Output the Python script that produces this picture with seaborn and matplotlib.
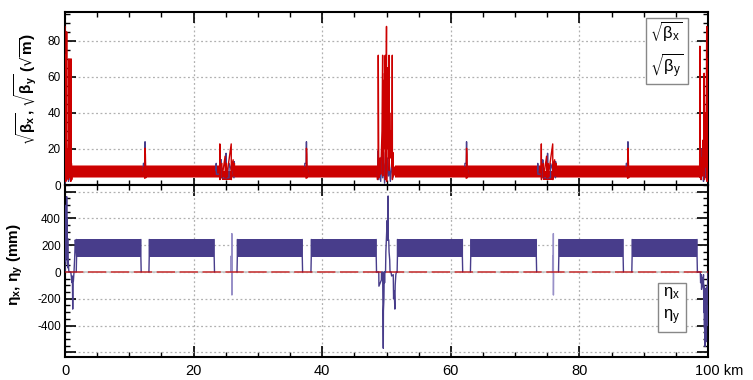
import numpy as np
import matplotlib
matplotlib.use("Agg")

import matplotlib.pyplot as plt
from matplotlib.ticker import MultipleLocator, FuncFormatter
import seaborn as sns


# =========================
# DATA
# =========================

RED = "#cc0000"
RED_LIGHT = "#e87a7a"
BLUE = "#483d8b"
BLUE_LIGHT = "#9890c8"

# --- top panel: sqrt(beta) in sqrt(m) ---
# regular FODO oscillation band (km)
BETA_BAND_START = [1.1, 25.85, 51.3, 75.85]
BETA_BAND_END = [24.35, 48.6, 74.35, 98.7]
BETA_BAND_LOW = 4.6
BETA_BAND_HIGH = 10.7

# lower band inside the 25 / 75 km straights
BETA_LOW_START = [24.35, 74.35]
BETA_LOW_END = [25.85, 75.85]
BETA_LOW_LOW = 2.8
BETA_LOW_HIGH = 8.0

# interaction region at 0 km
IR0_S = [0.00, 0.02, 0.05, 0.08, 0.10, 0.13, 0.16, 0.20, 0.23, 0.26, 0.30, 0.34,
         0.40, 0.45, 0.50, 0.55, 0.60, 0.62, 0.66, 0.72, 0.78, 0.84, 0.90, 0.93,
         0.96, 1.00, 1.05, 1.10]
IR0_RED = [88, 5, 72, 3, 45, 2, 70, 10, 30, 85, 4, 20,
           8, 18, 3, 22, 26, 70, 6, 15, 4, 20, 2, 70,
           5, 12, 3, 10]
IR0_BS = [0.00, 0.05, 0.10, 0.20, 0.30, 0.45, 0.55, 0.60, 0.65, 0.75, 0.85, 0.95, 1.05]
IR0_BLUE = [0, 15, 3, 22, 8, 18, 2, 20, 5, 15, 3, 12, 6]

# interaction region at 50 km
IR50_S = [48.55, 48.60, 48.70, 48.72, 48.80, 49.00, 49.10, 49.30, 49.40, 49.42,
          49.46, 49.50, 49.54, 49.58, 49.62, 49.66, 49.70, 49.74, 49.80, 49.82,
          49.86, 49.90, 49.94, 50.00, 50.02, 50.06, 50.10, 50.14, 50.18, 50.22,
          50.26, 50.30, 50.35, 50.40, 50.42, 50.50, 50.60, 50.70, 50.85, 50.90,
          50.92, 51.00, 51.10, 51.20, 51.30]
IR50_RED = [8, 3, 20, 72, 4, 15, 6, 30, 72, 5,
            48, 25, 58, 20, 52, 28, 62, 35, 72, 3,
            60, 22, 50, 88, 2, 58, 30, 65, 25, 55,
            20, 48, 15, 72, 8, 40, 15, 30, 10, 72,
            3, 18, 5, 10, 6]
IR50_BS = [48.60, 48.70, 48.80, 48.95, 49.10, 49.25, 49.40, 49.55, 49.70, 49.85,
           50.00, 50.15, 50.30, 50.45, 50.60, 50.80, 51.00, 51.20]
IR50_BLUE = [5, 19, 3, 14, 2, 16, 4, 18, 1, 12, 3, 15, 5, 10, 2, 12, 4, 8]

# interaction region at 100 km
IR100_S = [98.70, 98.75, 98.78, 98.85, 98.95, 99.05, 99.15, 99.25, 99.35, 99.40,
           99.45, 99.55, 99.65, 99.75, 99.80, 99.85, 99.90, 99.95, 100.0]
IR100_RED = [6, 77, 4, 20, 3, 15, 5, 25, 8, 62,
             3, 40, 10, 55, 88, 2, 70, 20, 60]
IR100_BS = [98.7, 98.8, 98.9, 99.0, 99.1, 99.2, 99.3, 99.4, 99.5, 99.6, 99.7, 99.8, 99.9, 100.0]
IR100_BLUE = [5, 15, 3, 20, 6, 18, 2, 22, 8, 16, 4, 20, 10, 25]

# small bumps at the quarter straights
BUMP_KM = [12.45, 37.55, 62.45, 87.55]
BUMP_DS = [-0.30, -0.25, -0.05, 0.00, 0.05, 0.12, 0.20]
BUMP_BLUE = [8, 12, 12, 24, 10, 6, 8]
BUMP_RED = [8, 10, 3.7, 20.4, 17, 4, 8]

# features around the 25 / 75 km straights
MID_KM = [25.0, 75.0]
MID_DS_RED = [-0.95, -0.92, -0.90, -0.87, -0.60, -0.58, -0.10, -0.08, 0.10, 0.12,
              0.85, 0.87, 0.90, 1.15, 1.18, 1.35, 1.38, 1.45]
MID_RED = [8, 22.8, 3, 10, 12, 4, 16, 4, 12, 4,
           22.8, 3, 10, 14, 5, 12, 5, 8]
MID_DS_BLUE = [-1.50, -1.48, -1.45, -0.72, -0.70, -0.68, 0.03, 0.05, 0.07,
               0.50, 0.52, 1.28, 1.30, 1.32]
MID_BLUE = [8, 12, 6, 6, 14, 4, 4, 17.6, 4, 4, 12, 4, 13, 6]

# --- bottom panel: dispersion in mm ---
ETA_ARC_START = [1.8, 13.1, 26.8, 38.3, 51.7, 63.1, 76.8, 88.2]
ETA_ARC_END = [11.8, 23.2, 36.9, 48.4, 61.8, 73.3, 86.8, 98.3]
ETA_BAND_LOW = 115
ETA_BAND_HIGH = 243

ETA_IR0_S = [0.00, 0.03, 0.06, 0.10, 0.14, 0.18, 0.22, 0.26, 0.30, 0.34, 0.38,
             0.42, 0.46, 0.50, 0.55, 0.60, 0.70, 0.90, 1.00, 1.10, 1.15, 1.20,
             1.25, 1.30, 1.40, 1.50, 1.60, 1.70, 1.80]
ETA_IR0 = [0, 300, 80, 450, 120, 500, 150, 563, 100, 400, 60,
           250, 30, 90, 45, 0, 0, 0, -40, -80, -30, -277,
           -60, -70, 0, 100, 240, 180, 115]

ETA_IR50_S = [48.40, 48.45, 48.80, 48.82, 49.20, 49.22, 49.40, 49.45, 49.50, 49.52,
              49.60, 49.65, 49.70, 49.75, 49.85, 49.90, 50.10, 50.15, 50.25, 50.27,
              50.35, 50.40, 50.50, 50.55, 50.70, 50.80, 51.05, 51.10, 51.20, 51.30,
              51.35, 51.45, 51.55, 51.60, 51.70]
ETA_IR50 = [0, 0, 0, -106, -60, 0, 0, -290, -570, -290,
            -200, 0, -81, 0, 0, 150, 385, 237, 568, 240,
            240, 150, 90, 0, 0, -30, -20, -200, -140, -277,
            -100, -20, 0, 0, 0]

ETA_IR100_S = [98.30, 98.40, 98.80, 98.85, 98.95, 99.00, 99.10, 99.20, 99.30, 99.35,
               99.40, 99.45, 99.50, 99.55, 99.60, 99.65, 99.70, 99.75, 99.80, 99.85,
               99.90, 99.95, 100.0]
ETA_IR100 = [0, 0, 0, -80, -20, -130, -40, -110, -20, -300,
             -100, -420, -150, -556, -200, -480, -120, -520, -250, -400,
             -100, -200, 0]

ETA_MID_DS = [0.83, 0.85, 0.87, 0.93, 0.95, 0.96, 0.98]
ETA_MID = [0, 120, 0, 0, 287, -172, 0]


# =========================
# STYLE
# =========================

sns.set_style("ticks")
plt.rcParams["font.family"] = ["Liberation Sans", "DejaVu Sans"]
plt.rcParams["mathtext.default"] = "regular"
plt.rcParams["text.color"] = "black"
plt.rcParams["axes.labelcolor"] = "black"
plt.rcParams["axes.edgecolor"] = "black"
plt.rcParams["xtick.color"] = "black"
plt.rcParams["ytick.color"] = "black"


def line(ax, s, v, color, lw=1.0, z=3, alpha=1.0):
    sns.lineplot(x=np.asarray(s, float), y=np.asarray(v, float), ax=ax,
                 sort=False, estimator=None, color=color, lw=lw,
                 zorder=z, alpha=alpha, legend=False)


def style_axis(ax):
    ax.tick_params(which="both", direction="in", top=True, right=True,
                   labelsize=8.5, pad=3, color="black", labelcolor="black")
    ax.tick_params(which="major", length=8, width=1.2)
    ax.tick_params(which="minor", length=3.5, width=1.0)
    ax.tick_params(axis="x", labelsize=10.5, pad=5)
    for sp in ax.spines.values():
        sp.set_linewidth(1.5)
        sp.set_color("black")
    ax.grid(True, which="major", ls=(0, (1.5, 2.0)), color="#b0b0b0", lw=0.9)
    ax.set_axisbelow(True)


# =========================
# FIGURE
# =========================

fig = plt.figure(figsize=(7.53, 3.80), dpi=100)
ax1 = fig.add_axes([65 / 753, 1 - 185 / 380, 643 / 753, 173 / 380])
ax2 = fig.add_axes([65 / 753, 1 - 357 / 380, 643 / 753, 172 / 380], sharex=ax1)

# ---- top: sqrt(beta) ----
for s0, s1 in zip(BETA_BAND_START, BETA_BAND_END):
    ax1.fill_between([s0, s1], BETA_BAND_LOW - 0.7, BETA_BAND_HIGH + 0.6,
                     color=RED_LIGHT, lw=0, zorder=2)
    ax1.fill_between([s0, s1], BETA_BAND_LOW, BETA_BAND_HIGH,
                     color=RED, lw=0, zorder=2)
for s0, s1 in zip(BETA_LOW_START, BETA_LOW_END):
    ax1.fill_between([s0, s1], BETA_LOW_LOW, BETA_LOW_HIGH,
                     color=RED, lw=0, zorder=2)

line(ax1, IR0_BS, IR0_BLUE, BLUE, z=3)
line(ax1, IR50_BS, IR50_BLUE, BLUE, z=3)
line(ax1, IR100_BS, IR100_BLUE, BLUE, z=3)
for c in BUMP_KM:
    line(ax1, [c + d for d in BUMP_DS], BUMP_BLUE, BLUE, z=3)
for c in MID_KM:
    line(ax1, [c + d for d in MID_DS_BLUE], MID_BLUE, BLUE, z=3)

line(ax1, IR0_S, IR0_RED, RED, z=4)
line(ax1, IR50_S, IR50_RED, RED, z=4)
line(ax1, IR100_S, IR100_RED, RED, z=4)
for c in BUMP_KM:
    line(ax1, [c + d for d in BUMP_DS], BUMP_RED, RED, z=4)
for c in MID_KM:
    line(ax1, [c + d for d in MID_DS_RED], MID_RED, RED, z=4)

ax1.set_xlim(0, 100)
ax1.set_ylim(0, 96)
ax1.xaxis.set_major_locator(MultipleLocator(20))
ax1.xaxis.set_minor_locator(MultipleLocator(5))
ax1.yaxis.set_major_locator(MultipleLocator(20))
ax1.yaxis.set_minor_locator(MultipleLocator(5))
style_axis(ax1)
ax1.tick_params(axis="x", labelbottom=False)
ax1.set_xlabel("")
ax1.set_ylabel(r"$\sqrt{\beta_x}$, $\sqrt{\beta_y}$ ($\sqrt{m}$)",
               fontsize=11, fontweight="bold")
ax1.yaxis.set_label_coords(-0.042, 0.555)

ax1.text(0.936, 0.78, r"$\sqrt{\beta_x}$" + "\n" + r"$\sqrt{\beta_y}$",
         transform=ax1.transAxes, ha="center", va="center", fontsize=12,
         linespacing=1.35, zorder=6,
         bbox=dict(boxstyle="square,pad=0.25", facecolor="white",
                   edgecolor="#888888", lw=1.0))

# ---- bottom: dispersion ----
ax2.axhline(0, color="#c8c8c8", lw=1.2, zorder=2)
for s0, s1 in zip(ETA_ARC_START, ETA_ARC_END):
    ax2.fill_between([s0, s1], ETA_BAND_LOW - 6, ETA_BAND_HIGH + 5,
                     color=BLUE_LIGHT, lw=0, zorder=3)
    ax2.fill_between([s0, s1], ETA_BAND_LOW, ETA_BAND_HIGH,
                     color=BLUE, lw=0, zorder=3)
    line(ax2, [s0 - 0.05, s0, s0], [0, ETA_BAND_LOW, ETA_BAND_HIGH], BLUE, z=3)
    line(ax2, [s1, s1, s1 + 0.05], [ETA_BAND_HIGH, ETA_BAND_LOW, 0], BLUE, z=3)

line(ax2, ETA_IR0_S, ETA_IR0, BLUE, z=3)
line(ax2, ETA_IR50_S, ETA_IR50, BLUE, z=3)
line(ax2, ETA_IR100_S, ETA_IR100, BLUE, z=3)
for c in MID_KM:
    line(ax2, [c + d for d in ETA_MID_DS], ETA_MID, BLUE_LIGHT, z=3)

ax2.plot([0, 100], [0, 0], color=RED, lw=1.1, alpha=0.75,
         dashes=(12, 3), zorder=4)

ax2.set_ylim(-635, 650)
ax2.yaxis.set_major_locator(MultipleLocator(200))
ax2.yaxis.set_minor_locator(MultipleLocator(50))
ax2.yaxis.set_major_formatter(
    FuncFormatter(lambda v, p: "" if abs(v) > 500 else f"{v:.0f}"))
ax2.xaxis.set_major_formatter(
    FuncFormatter(lambda v, p: "" if v > 99 else f"{v:.0f}"))
style_axis(ax2)
ax2.set_xlabel("")
ax2.set_ylabel(r"$\eta_x$, $\eta_y$ (mm)", fontsize=11, fontweight="bold")
ax2.yaxis.set_label_coords(-0.062, 0.535)

ax2.annotate("100 km", xy=(100, 0), xycoords=("data", "axes fraction"),
             xytext=(-13, -7), textcoords="offset pixels",
             ha="left", va="top", fontsize=10.5)

ax2.text(0.944, 0.297, r"$\eta_x$" + "\n" + r"$\eta_y$",
         transform=ax2.transAxes, ha="center", va="center", fontsize=12,
         linespacing=1.5, zorder=6,
         bbox=dict(boxstyle="square,pad=0.3", facecolor="white",
                   edgecolor="#888888", lw=1.0))

fig.savefig("out.png", dpi=100)
